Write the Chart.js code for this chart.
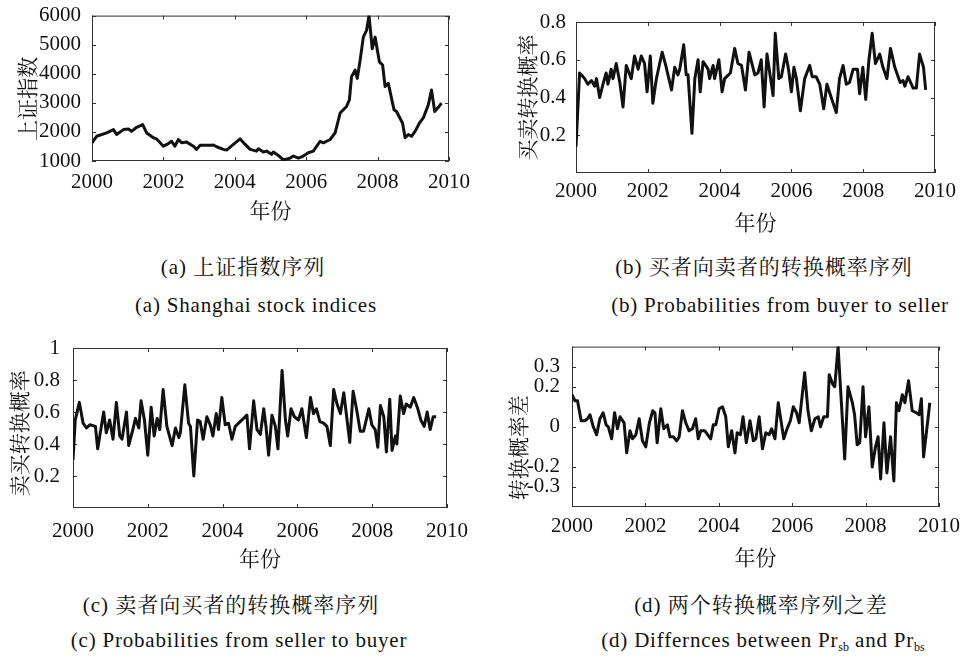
<!DOCTYPE html>
<html>
<head>
<meta charset="utf-8">
<script src="https://cdn.jsdelivr.net/npm/chart.js@4.4.1/dist/chart.umd.min.js"></script>
<style>
  html, body { margin: 0; padding: 0; background: #fff; }
  #page { position: relative; width: 963px; height: 658px; overflow: hidden; }
  .panel { position: absolute; }
  .cap { position: absolute; width: 460px; text-align: center; white-space: nowrap; color: #111; line-height: 1; }
  .cn { font-family: 'Liberation Serif', 'Noto Serif CJK SC', serif; font-size: 21px; letter-spacing: 1px; }
  .en { font-family: 'Liberation Serif', serif; font-size: 21px; letter-spacing: 0.8px; }
  .en sub { font-size: 12px; vertical-align: -4px; letter-spacing: 0; }
</style>
</head>
<body>
<div id="page">
  <canvas id="chartA" class="panel" width="480" height="235" style="left:0;top:0"></canvas>
  <canvas id="chartB" class="panel" width="483" height="240" style="left:480px;top:0"></canvas>
  <canvas id="chartC" class="panel" width="480" height="245" style="left:0;top:330px"></canvas>
  <canvas id="chartD" class="panel" width="483" height="245" style="left:480px;top:330px"></canvas>

  <div class="cap cn" style="left:13px;top:257px">(a) 上证指数序列</div>
  <div class="cap en" style="left:26px;top:295px">(a) Shanghai stock indices</div>
  <div class="cap cn" style="left:534px;top:257px">(b) 买者向卖者的转换概率序列</div>
  <div class="cap en" style="left:550px;top:295px">(b) Probabilities from buyer to seller</div>
  <div class="cap cn" style="left:1px;top:595px">(c) 卖者向买者的转换概率序列</div>
  <div class="cap en" style="left:9px;top:630px">(c) Probabilities from seller to buyer</div>
  <div class="cap cn" style="left:531px;top:595px">(d) 两个转换概率序列之差</div>
  <div class="cap en" style="left:533px;top:630px">(d) Differnces between Pr<sub>sb</sub> and Pr<sub>bs</sub></div>
</div>

<script>
// Axis ticks
const yearTicks = [2000, 2002, 2004, 2006, 2008, 2010];
const aTicks = [1000, 2000, 3000, 4000, 5000, 6000];
const bTicks = [0.2, 0.4, 0.6, 0.8];
const cTicks = [0.2, 0.4, 0.6, 0.8, 1];
const dTicks = [-0.3, -0.2, 0, 0.2, 0.3];

// (a) Shanghai composite index
const aYears = [
  2000.00, 2000.13, 2000.41, 2000.60, 2000.69, 2000.88, 2001.02, 2001.11, 2001.25, 2001.42,
  2001.53, 2001.72, 2001.81, 2002.00, 2002.14, 2002.23, 2002.32, 2002.42, 2002.51, 2002.65,
  2002.84, 2002.93, 2003.03, 2003.31, 2003.40, 2003.49, 2003.68, 2003.77, 2003.96, 2004.15,
  2004.29, 2004.43, 2004.61, 2004.66, 2004.80, 2004.89, 2005.03, 2005.08, 2005.22, 2005.36,
  2005.55, 2005.64, 2005.78, 2005.92, 2006.06, 2006.20, 2006.39, 2006.48, 2006.67, 2006.81,
  2006.95, 2007.13, 2007.21, 2007.27, 2007.37, 2007.43, 2007.51, 2007.60, 2007.69, 2007.76,
  2007.85, 2007.93, 2008.05, 2008.14, 2008.21, 2008.30, 2008.46, 2008.53, 2008.70, 2008.77,
  2008.86, 2008.95, 2009.05, 2009.17, 2009.28, 2009.42, 2009.51, 2009.60, 2009.72, 2009.79
];
const aValues = [
  1625, 1850, 1965, 2080, 1910, 2080, 2100, 2020, 2160, 2250,
  1965, 1800, 1760, 1510, 1600, 1680, 1510, 1740, 1625, 1650,
  1510, 1400, 1540, 1540, 1550, 1490, 1400, 1375, 1570, 1760,
  1570, 1400, 1340, 1420, 1310, 1340, 1230, 1310, 1190, 1035,
  1100, 1170, 1100, 1170, 1285, 1340, 1680, 1625, 1740, 1970,
  2650, 2875, 3100, 3900, 4125, 3840, 4460, 5260, 5490, 6000,
  4860, 5260, 4410, 4300, 3560, 3670, 2760, 2700, 2300, 1800,
  1910, 1850, 2020, 2300, 2480, 2930, 3440, 2700, 2875, 2990
];

// (b) buyer -> seller transition probability
const bYears = [
  2000.00, 2000.10, 2000.15, 2000.24, 2000.33, 2000.43, 2000.52, 2000.57, 2000.66, 2000.75,
  2000.84, 2000.89, 2000.98, 2001.03, 2001.12, 2001.22, 2001.31, 2001.40, 2001.54, 2001.63,
  2001.73, 2001.82, 2001.91, 2001.98, 2002.07, 2002.14, 2002.24, 2002.33, 2002.40, 2002.50,
  2002.66, 2002.75, 2002.84, 2002.89, 2003.00, 2003.07, 2003.12, 2003.23, 2003.31, 2003.40,
  2003.46, 2003.54, 2003.68, 2003.72, 2003.82, 2003.86, 2003.98, 2004.07, 2004.14, 2004.30,
  2004.42, 2004.51, 2004.61, 2004.72, 2004.82, 2004.98, 2005.07, 2005.16, 2005.24, 2005.32,
  2005.49, 2005.55, 2005.65, 2005.72, 2005.84, 2005.92, 2006.00, 2006.07, 2006.14, 2006.25,
  2006.37, 2006.51, 2006.58, 2006.69, 2006.79, 2006.90, 2006.99, 2007.11, 2007.25, 2007.34,
  2007.44, 2007.53, 2007.62, 2007.72, 2007.84, 2007.90, 2007.99, 2008.07, 2008.16, 2008.25,
  2008.34, 2008.46, 2008.55, 2008.66, 2008.76, 2008.88, 2009.03, 2009.11, 2009.16, 2009.25,
  2009.39, 2009.48, 2009.57, 2009.68, 2009.74
];
const bValues = [
  0.14, 0.53, 0.52, 0.50, 0.47, 0.49, 0.46, 0.50, 0.40, 0.47,
  0.53, 0.47, 0.55, 0.50, 0.58, 0.48, 0.35, 0.57, 0.50, 0.62,
  0.55, 0.62, 0.58, 0.43, 0.62, 0.37, 0.50, 0.58, 0.64, 0.57,
  0.44, 0.56, 0.52, 0.55, 0.68, 0.52, 0.52, 0.21, 0.50, 0.60,
  0.43, 0.59, 0.55, 0.50, 0.57, 0.50, 0.60, 0.43, 0.50, 0.53,
  0.66, 0.58, 0.57, 0.44, 0.64, 0.52, 0.53, 0.60, 0.35, 0.63,
  0.41, 0.74, 0.50, 0.51, 0.63, 0.55, 0.43, 0.56, 0.50, 0.33,
  0.50, 0.57, 0.51, 0.51, 0.47, 0.34, 0.47, 0.40, 0.32, 0.50,
  0.57, 0.47, 0.48, 0.55, 0.55, 0.42, 0.56, 0.39, 0.60, 0.74,
  0.58, 0.63, 0.56, 0.50, 0.66, 0.56, 0.48, 0.49, 0.46, 0.51,
  0.45, 0.45, 0.63, 0.56, 0.44
];

// (c) seller -> buyer transition probability
const cYears = [
  2000.00, 2000.06, 2000.17, 2000.27, 2000.36, 2000.45, 2000.60, 2000.66, 2000.82, 2000.89,
  2000.98, 2001.07, 2001.16, 2001.25, 2001.31, 2001.43, 2001.49, 2001.60, 2001.67, 2001.76,
  2001.82, 2001.91, 2002.00, 2002.09, 2002.17, 2002.25, 2002.32, 2002.41, 2002.51, 2002.65,
  2002.74, 2002.83, 2002.87, 2002.99, 2003.09, 2003.14, 2003.23, 2003.33, 2003.40, 2003.48,
  2003.58, 2003.67, 2003.74, 2003.83, 2003.89, 2003.98, 2004.07, 2004.16, 2004.25, 2004.34,
  2004.47, 2004.65, 2004.72, 2004.83, 2004.92, 2005.01, 2005.10, 2005.16, 2005.23, 2005.32,
  2005.41, 2005.48, 2005.59, 2005.68, 2005.74, 2005.83, 2005.92, 2006.03, 2006.12, 2006.24,
  2006.35, 2006.43, 2006.51, 2006.60, 2006.70, 2006.79, 2006.88, 2006.97, 2007.06, 2007.15,
  2007.24, 2007.40, 2007.49, 2007.58, 2007.68, 2007.77, 2007.91, 2007.99, 2008.08, 2008.15,
  2008.22, 2008.31, 2008.38, 2008.47, 2008.53, 2008.62, 2008.66, 2008.75, 2008.84, 2008.91,
  2009.02, 2009.11, 2009.22, 2009.30, 2009.39, 2009.47, 2009.55, 2009.63, 2009.71
];
const cValues = [
  0.30, 0.55, 0.66, 0.53, 0.50, 0.52, 0.51, 0.37, 0.60, 0.47,
  0.55, 0.43, 0.66, 0.45, 0.43, 0.60, 0.39, 0.49, 0.56, 0.50,
  0.67, 0.55, 0.33, 0.63, 0.45, 0.56, 0.49, 0.74, 0.51, 0.39,
  0.50, 0.44, 0.47, 0.77, 0.53, 0.51, 0.20, 0.55, 0.54, 0.43,
  0.57, 0.52, 0.45, 0.59, 0.49, 0.69, 0.52, 0.53, 0.43, 0.51,
  0.54, 0.58, 0.37, 0.67, 0.49, 0.46, 0.62, 0.51, 0.33, 0.58,
  0.51, 0.37, 0.86, 0.55, 0.45, 0.62, 0.57, 0.55, 0.62, 0.44,
  0.69, 0.59, 0.62, 0.54, 0.53, 0.51, 0.39, 0.74, 0.65, 0.59,
  0.72, 0.41, 0.73, 0.62, 0.48, 0.48, 0.62, 0.52, 0.49, 0.38,
  0.64, 0.57, 0.35, 0.68, 0.36, 0.45, 0.40, 0.70, 0.59, 0.65,
  0.63, 0.69, 0.62, 0.55, 0.51, 0.60, 0.49, 0.57, 0.57
];

// (d) difference of the two transition probabilities
const dYears = [
  2000.00, 2000.08, 2000.15, 2000.25, 2000.35, 2000.42, 2000.49, 2000.58, 2000.67, 2000.76,
  2000.85, 2000.93, 2000.99, 2001.08, 2001.16, 2001.24, 2001.31, 2001.42, 2001.49, 2001.58,
  2001.65, 2001.74, 2001.83, 2001.92, 2002.01, 2002.11, 2002.20, 2002.26, 2002.32, 2002.42,
  2002.50, 2002.60, 2002.67, 2002.76, 2002.85, 2002.92, 2003.01, 2003.10, 2003.19, 2003.28,
  2003.37, 2003.44, 2003.51, 2003.62, 2003.78, 2003.85, 2003.92, 2004.01, 2004.10, 2004.19,
  2004.26, 2004.35, 2004.44, 2004.50, 2004.59, 2004.66, 2004.75, 2004.85, 2004.94, 2005.01,
  2005.10, 2005.19, 2005.28, 2005.37, 2005.44, 2005.53, 2005.62, 2005.77, 2005.86, 2005.95,
  2006.03, 2006.12, 2006.19, 2006.34, 2006.43, 2006.52, 2006.62, 2006.71, 2006.77, 2006.86,
  2006.96, 2007.01, 2007.11, 2007.16, 2007.25, 2007.34, 2007.43, 2007.52, 2007.64, 2007.70,
  2007.77, 2007.84, 2007.93, 2008.00, 2008.09, 2008.18, 2008.27, 2008.34, 2008.41, 2008.50,
  2008.58, 2008.68, 2008.77, 2008.84, 2008.91, 2009.00, 2009.07, 2009.17, 2009.27, 2009.38,
  2009.46, 2009.52, 2009.58, 2009.75
];
const dValues = [
  0.16, 0.13, 0.13, 0.03, 0.03, 0.04, 0.06, 0.00, -0.04, 0.04,
  0.07, 0.01, 0.00, -0.06, 0.07, -0.01, 0.05, 0.02, -0.13, -0.02,
  -0.06, -0.04, 0.04, -0.07, -0.10, 0.02, 0.08, 0.07, -0.08, 0.09,
  -0.01, 0.01, -0.05, -0.05, -0.07, -0.05, 0.08, 0.02, -0.02, -0.01,
  0.04, -0.06, -0.02, -0.02, -0.06, 0.01, 0.01, 0.09, 0.10, 0.05,
  -0.10, -0.02, -0.13, -0.03, -0.04, 0.05, -0.08, 0.03, -0.07, -0.06,
  0.05, -0.11, -0.03, -0.04, -0.01, -0.06, 0.12, -0.06, -0.01, 0.03,
  0.10, 0.07, 0.02, 0.27, 0.08, -0.02, 0.04, 0.05, 0.00, 0.05,
  0.05, 0.26, 0.21, 0.20, 0.40, 0.12, -0.16, 0.20, 0.12, 0.06,
  -0.09, -0.08, 0.20, -0.05, 0.10, -0.20, -0.10, -0.05, -0.26, 0.02,
  -0.23, -0.05, -0.27, 0.12, 0.08, 0.16, 0.12, 0.23, 0.08, 0.07,
  0.06, 0.14, -0.15, 0.12
];

const SERIF = "'Liberation Serif', serif";
const CJK = "'Noto Serif CJK SC', 'Noto Sans CJK SC', serif";
const INK = '#111';

function fmtTick(v) {
  return v < 0 ? '-' + Math.abs(v) : String(v);
}

// MATLAB-style box: full frame plus short inward ticks on all four sides
const boxFrame = {
  id: 'boxFrame',
  beforeDatasetsDraw(chart) {
    const { ctx, chartArea: a, scales } = chart;
    const len = 4;
    ctx.save();
    ctx.strokeStyle = '#333';
    ctx.lineWidth = 1;
    ctx.strokeRect(a.left + 0.5, a.top + 0.5, a.right - a.left - 1, a.bottom - a.top - 1);
    ctx.beginPath();
    scales.x.ticks.forEach((t) => {
      const px = Math.round(scales.x.getPixelForValue(t.value)) + 0.5;
      ctx.moveTo(px, a.bottom); ctx.lineTo(px, a.bottom - len);
      ctx.moveTo(px, a.top); ctx.lineTo(px, a.top + len);
    });
    scales.y.ticks.forEach((t) => {
      const py = Math.round(scales.y.getPixelForValue(t.value)) + 0.5;
      ctx.moveTo(a.left, py); ctx.lineTo(a.left + len, py);
      ctx.moveTo(a.right, py); ctx.lineTo(a.right - len, py);
    });
    ctx.stroke();
    ctx.restore();
  },
};

function drawPanel(id, years, values, yMin, yMax, yTicks, yTitle, box) {
  const points = years.map((x, i) => ({ x: x, y: values[i] }));
  return new Chart(document.getElementById(id), {
    type: 'line',
    data: {
      datasets: [{
        data: points,
        borderColor: '#111',
        borderWidth: 3,
        borderJoinStyle: 'round',
        pointRadius: 0,
        tension: 0,
        fill: false,
      }],
    },
    options: {
      responsive: false,
      animation: false,
      layout: { padding: { left: 0, top: box.top, right: box.right, bottom: 0 } },
      plugins: { legend: { display: false }, tooltip: { enabled: false } },
      scales: {
        x: {
          type: 'linear',
          min: 2000,
          max: 2010,
          afterBuildTicks: (s) => { s.ticks = yearTicks.map((v) => ({ value: v })); },
          afterFit: (s) => { s.height = box.xHeight; },
          grid: { display: false },
          border: { display: false },
          ticks: {
            padding: box.xTickPad,
            maxRotation: 0,
            autoSkip: false,
            color: INK,
            font: { family: SERIF, size: 21 },
            callback: (v) => String(v),
          },
          title: {
            display: true,
            text: '年份',
            color: INK,
            font: { family: CJK, size: 21 },
            padding: { top: 0, bottom: box.xTitlePad },
          },
        },
        y: {
          min: yMin,
          max: yMax,
          afterBuildTicks: (s) => { s.ticks = yTicks.map((v) => ({ value: v })); },
          afterFit: (s) => { s.width = box.yWidth; },
          grid: { display: false },
          border: { display: false },
          ticks: {
            padding: box.yTickPad,
            color: INK,
            font: { family: SERIF, size: 21 },
            callback: fmtTick,
          },
          title: {
            display: true,
            // trailing blank nudges the rotated title down like the original
            text: yTitle + box.yTitleTail,
            color: INK,
            font: { family: CJK, size: 21 },
            padding: { top: box.yTitlePad, bottom: 0 },
          },
        },
      },
    },
    plugins: [boxFrame],
  });
}

drawPanel('chartA', aYears, aValues, 1000, 6000, aTicks, '上证指数',
  { top: 15, right: 31, yWidth: 92, xHeight: 74, xTickPad: 1, yTickPad: 3, yTitlePad: 14, xTitlePad: 12, yTitleTail: '\u3000' });
drawPanel('chartB', bYears, bValues, 0, 0.8, bTicks, '买卖转换概率',
  { top: 22, right: 28, yWidth: 96, xHeight: 67, xTickPad: -2, yTickPad: 2, yTitlePad: 34, xTitlePad: 5, yTitleTail: '' });
drawPanel('chartC', cYears, cValues, 0, 1, cTicks, '卖买转换概率',
  { top: 18, right: 33, yWidth: 73, xHeight: 67, xTickPad: 3, yTickPad: 5, yTitlePad: 6, xTitlePad: 4, yTitleTail: '\u2002' });
drawPanel('chartD', dYears, dValues, -0.4, 0.4, dTicks, '转换概率差',
  { top: 12, right: 24, yWidth: 92, xHeight: 68, xTickPad: -1, yTickPad: 4, yTitlePad: 25, xTitlePad: 5, yTitleTail: '\u3000\u3000' });
</script>
</body>
</html>
